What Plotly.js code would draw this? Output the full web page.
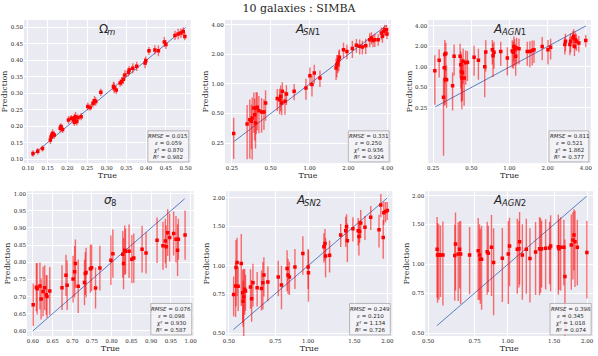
<!DOCTYPE html>
<html>
<head>
<meta charset="utf-8">
<script src="https://cdn.plot.ly/plotly-3.0.1.min.js"></script>
<style>
  body { margin: 0; background: #ffffff; }
  #chart { width: 598px; height: 356px; }
</style>
</head>
<body>
<div id="chart"></div>
<script>
// Omega_m
var om_true = [0.113,0.125,0.137,0.157,0.159,0.161,0.163,0.167,0.182,0.184,0.188,0.203,0.210,0.216,0.218,0.218,0.221,0.224,0.227,0.235,0.252,0.258,0.265,0.269,0.272,0.285,0.317,0.319,0.324,0.334,0.338,0.342,0.346,0.355,0.357,0.366,0.376,0.397,0.399,0.407,0.422,0.431,0.446,0.450,0.473,0.481,0.488,0.494,0.498];
var om_pred = [0.117,0.124,0.132,0.158,0.168,0.173,0.178,0.173,0.194,0.199,0.190,0.219,0.224,0.219,0.226,0.212,0.229,0.214,0.226,0.229,0.260,0.257,0.270,0.277,0.275,0.303,0.321,0.316,0.310,0.331,0.336,0.343,0.356,0.364,0.371,0.376,0.382,0.392,0.399,0.429,0.432,0.429,0.456,0.448,0.476,0.480,0.483,0.488,0.473];
var om_err = [0.010,0.010,0.009,0.012,0.014,0.012,0.013,0.011,0.012,0.010,0.011,0.012,0.010,0.013,0.012,0.011,0.014,0.012,0.010,0.011,0.012,0.010,0.013,0.015,0.012,0.011,0.014,0.016,0.012,0.011,0.013,0.015,0.014,0.013,0.012,0.015,0.014,0.016,0.013,0.012,0.014,0.016,0.015,0.013,0.014,0.016,0.015,0.013,0.012];
var om_line = [0.11, 0.50];

// A_SN1
var sn1_true = [0.258,0.328,0.344,0.354,0.359,0.370,0.376,0.381,0.386,0.393,0.405,0.425,0.443,0.456,0.562,0.586,0.597,0.608,0.615,0.645,0.662,0.760,0.938,1.007,1.045,1.089,1.205,1.607,1.629,1.656,1.687,1.706,1.835,1.950,2.150,2.310,2.450,2.570,2.730,2.930,3.020,3.110,3.210,3.410,3.610,3.680,3.770,3.840,3.960,3.990];
var sn1_pred = [0.312,0.391,0.433,0.416,0.450,0.569,0.486,0.400,0.569,0.578,0.535,0.519,0.519,0.641,0.710,0.692,0.748,0.641,0.841,0.665,0.791,0.841,0.912,1.216,0.986,1.294,1.151,1.456,1.574,1.637,1.770,1.870,2.240,2.150,2.300,2.480,2.420,2.380,2.450,2.830,2.940,2.770,2.830,2.830,3.310,3.060,3.440,3.580,3.580,3.240];
var sn1_err = [0.14,0.22,0.26,0.20,0.28,0.25,0.22,0.18,0.26,0.24,0.22,0.20,0.18,0.22,0.18,0.20,0.22,0.16,0.20,0.18,0.18,0.16,0.22,0.26,0.24,0.28,0.22,0.36,0.40,0.34,0.42,0.38,0.40,0.36,0.46,0.40,0.42,0.38,0.44,0.46,0.42,0.40,0.44,0.38,0.46,0.42,0.40,0.44,0.38,0.36];
var sn1_line = [0.26, 3.98];

// A_AGN1
var agn1_true = [0.258,0.279,0.302,0.306,0.309,0.311,0.315,0.319,0.356,0.366,0.408,0.413,0.418,0.421,0.426,0.431,0.439,0.452,0.466,0.526,0.569,0.638,0.650,0.733,0.742,0.755,0.853,0.962,1.052,1.072,1.084,1.098,1.119,1.138,1.188,1.380,1.449,1.510,1.560,1.810,2.010,2.110,2.730,2.760,2.990,3.030,3.160,3.210,3.250,3.310,3.370,3.520,3.990];
var agn1_pred = [0.88,1.25,0.36,0.97,1.53,0.66,1.57,0.65,0.53,1.44,1.44,1.08,0.86,0.69,0.82,1.21,0.69,1.15,1.17,1.39,1.25,1.01,1.66,1.79,1.46,1.64,1.69,1.35,1.72,1.64,2.00,1.79,1.44,1.89,1.85,1.69,1.69,1.75,1.79,2.00,1.79,1.94,2.13,2.38,2.13,2.38,2.67,2.82,2.00,2.50,2.38,2.25,2.45];
var agn1_err = [0.60,0.55,0.31,0.70,0.95,0.38,0.70,0.40,0.30,0.70,0.75,0.60,0.55,0.45,0.50,0.65,0.42,0.60,0.55,0.65,0.60,0.65,0.80,0.70,0.75,0.70,0.65,0.60,0.75,0.70,0.80,0.75,0.70,0.80,0.75,0.65,0.70,0.70,0.65,0.75,0.70,0.65,0.60,0.70,0.65,0.75,0.70,0.75,0.55,0.70,0.65,0.60,0.50];
var agn1_line = [0.26, 4.0];

// sigma_8
var s8_true = [0.601,0.609,0.611,0.618,0.621,0.626,0.630,0.634,0.636,0.643,0.674,0.684,0.687,0.702,0.706,0.708,0.715,0.731,0.733,0.735,0.746,0.749,0.759,0.770,0.798,0.803,0.828,0.830,0.833,0.835,0.844,0.851,0.856,0.877,0.887,0.915,0.930,0.936,0.938,0.942,0.947,0.957,0.963,0.967,0.969,0.986];
var s8_pred = [0.676,0.727,0.723,0.731,0.693,0.715,0.726,0.705,0.700,0.716,0.726,0.762,0.733,0.751,0.772,0.796,0.730,0.741,0.767,0.770,0.781,0.784,0.725,0.783,0.806,0.825,0.823,0.796,0.835,0.832,0.832,0.809,0.812,0.838,0.827,0.864,0.848,0.862,0.845,0.886,0.872,0.884,0.867,0.835,0.867,0.879];
var s8_err = [0.062,0.070,0.075,0.068,0.060,0.072,0.065,0.058,0.062,0.070,0.065,0.060,0.072,0.068,0.075,0.070,0.078,0.066,0.062,0.072,0.070,0.068,0.060,0.065,0.072,0.070,0.068,0.075,0.072,0.066,0.078,0.070,0.072,0.068,0.060,0.066,0.070,0.065,0.062,0.068,0.070,0.064,0.068,0.075,0.060,0.072];
var s8_line = [0.60, 0.985];

// A_SN2
var sn2_true = [0.521,0.530,0.532,0.537,0.542,0.557,0.564,0.566,0.569,0.574,0.578,0.604,0.610,0.617,0.640,0.665,0.673,0.679,0.703,0.770,0.792,0.832,0.839,0.849,0.891,0.955,1.000,1.003,1.148,1.159,1.165,1.207,1.330,1.390,1.400,1.410,1.480,1.550,1.560,1.570,1.585,1.645,1.730,1.860,1.890,1.930,1.940,1.970,2.000];
var sn2_pred = [0.745,0.811,0.980,1.032,0.809,1.021,0.758,0.695,0.725,0.785,0.771,0.803,0.713,0.839,0.798,0.792,0.839,0.909,0.845,0.891,0.820,0.970,0.909,0.891,0.987,1.132,0.987,0.931,1.212,1.255,1.105,1.113,1.370,1.430,1.490,1.289,1.460,1.430,1.348,1.420,1.547,1.480,1.640,1.445,1.862,1.334,1.720,1.740,1.757];
var sn2_err = [0.15,0.22,0.32,0.30,0.18,0.36,0.20,0.16,0.24,0.18,0.14,0.16,0.15,0.18,0.14,0.16,0.20,0.18,0.15,0.16,0.18,0.20,0.16,0.15,0.20,0.22,0.20,0.24,0.18,0.20,0.22,0.18,0.16,0.22,0.20,0.25,0.18,0.20,0.24,0.16,0.22,0.18,0.20,0.24,0.22,0.26,0.20,0.18,0.16];
var sn2_line = [0.52, 2.0];

// A_AGN2
var agn2_true = [0.541,0.543,0.549,0.557,0.569,0.631,0.635,0.650,0.658,0.664,0.718,0.774,0.783,0.788,0.797,0.837,0.845,0.869,0.885,0.955,1.006,1.017,1.088,1.104,1.110,1.137,1.177,1.215,1.276,1.321,1.333,1.345,1.393,1.442,1.455,1.556,1.564,1.588,1.633,1.648,1.742,1.767,1.783,1.799,1.836,1.995];
var agn2_pred = [1.165,1.101,1.101,1.101,1.101,1.094,1.229,1.112,1.165,1.112,1.101,1.150,1.101,1.054,1.054,1.138,1.119,1.189,1.020,1.065,1.112,1.204,1.165,1.173,1.258,1.101,1.165,1.062,1.135,1.173,1.173,1.173,1.177,1.180,1.204,1.197,1.173,1.189,1.189,0.887,1.216,1.279,1.345,1.258,1.189,1.130];
var agn2_err = [0.45,0.42,0.40,0.38,0.44,0.40,0.46,0.42,0.38,0.44,0.36,0.45,0.40,0.38,0.42,0.40,0.36,0.46,0.42,0.38,0.44,0.40,0.42,0.38,0.44,0.40,0.42,0.38,0.40,0.44,0.42,0.38,0.40,0.36,0.44,0.46,0.40,0.42,0.38,0.40,0.44,0.42,0.40,0.46,0.38,0.42];
var agn2_line = [0.54, 1.99];

// panel titles (symbol + subscript) and score boxes
var title_base = ["Ω", "<i>A</i>", "<i>A</i>", "<i>σ</i>", "<i>A</i>", "<i>A</i>"];
var title_sub = ["<i>m</i>", "<i>SN</i>1", "<i>AGN</i>1", "8", "<i>SN</i>2", "<i>AGN</i>2"];
var rmse = ["0.015", "0.331", "0.811", "0.076", "0.249", "0.398"];
var eps = ["0.059", "0.250", "0.521", "0.098", "0.210", "0.345"];
var chi2 = ["0.870", "0.936", "1.862", "0.930", "1.134", "1.018"];
var r2 = ["0.982", "0.924", "0.377", "0.587", "0.726", "0.074"];

var lin_ticks = [0.10,0.15,0.20,0.25,0.30,0.35,0.40,0.45,0.50];
var s8_ticks = [0.60,0.65,0.70,0.75,0.80,0.85,0.90,0.95,1.00];
var log1_ticks = [0.25,0.5,1,2,4];
var log1_text = ["0.25","0.50","1.00","2.00","4.00"];
var log2_ticks = [0.5,0.75,1,1.5,2];
var log2_text = ["0.50","0.75","1.00","1.50","2.00"];

// sp = px shift of the joint between symbol and subscript, so the title stays centred
var panels = [
    {t: om_true, p: om_pred, e: om_err, l: om_line, type: "linear", tv: lin_ticks, sp: 0.5,
     xr: [0.09, 0.513], yr: [0.088, 0.523], xd: [0.040, 0.319], yd: [0.542, 0.944]},
    {t: sn1_true, p: sn1_pred, e: sn1_err, l: sn1_line, type: "log", tv: log1_ticks, tt: log1_text, sp: -4.5,
     xr: [-0.657, 0.633], yr: [-0.806, 0.653], xd: [0.376, 0.654], yd: [0.542, 0.944]},
    {t: agn1_true, p: agn1_pred, e: agn1_err, l: agn1_line, type: "log", tv: log1_ticks, tt: log1_text, sp: -8,
     xr: [-0.641, 0.641], yr: [-1.41, 0.69], xd: [0.716, 0.988], yd: [0.542, 0.944]},
    {t: s8_true, p: s8_pred, e: s8_err, l: s8_line, type: "linear", tv: s8_ticks, sp: 1,
     xr: [0.585, 1.008], yr: [0.585, 1.007], xd: [0.045, 0.324], yd: [0.056, 0.463]},
    {t: sn2_true, p: sn2_pred, e: sn2_err, l: sn2_line, type: "log", tv: log2_ticks, tt: log2_text, sp: -4.5,
     xr: [-0.312, 0.32], yr: [-0.313, 0.331], xd: [0.378, 0.656], yd: [0.056, 0.463]},
    {t: agn2_true, p: agn2_pred, e: agn2_err, l: agn2_line, type: "log", tv: log2_ticks, tt: log2_text, sp: -8,
     xr: [-0.312, 0.324], yr: [-0.313, 0.321], xd: [0.711, 0.992], yd: [0.056, 0.463]}
];

var serif = "DejaVu Serif";
var sans = "DejaVu Sans";
var data = [];
var annotations = [];
var shapes = [];

var layout = {
    width: 598,
    height: 356,
    margin: {l: 0, r: 0, t: 0, b: 0},
    paper_bgcolor: "#ffffff",
    plot_bgcolor: "#EAEAF2",
    showlegend: false,
    title: {text: "10 galaxies : SIMBA", x: 0.5, xanchor: "center", y: 0.978, yanchor: "middle",
            font: {family: serif, size: 11, color: "#262626"}},
    annotations: annotations,
    shapes: shapes
};

function axisSpec(pn, which){
    var ax = {
        type: pn.type,
        range: which == "x" ? pn.xr : pn.yr,
        domain: which == "x" ? pn.xd : pn.yd,
        tickvals: pn.tv,
        showgrid: true,
        gridcolor: "#ffffff",
        gridwidth: 1,
        zeroline: false,
        showline: false,
        ticks: "",
        tickfont: {family: serif, size: 5.5, color: "#262626"},
        title: {text: which == "x" ? "True" : "Prediction", standoff: 1,
                font: {family: serif, size: 8, color: "#262626"}}
    };
    if (pn.tt) {
        ax.ticktext = pn.tt;
    } else {
        ax.tickformat = ".2f";
    }
    return ax;
}

// one text line of the score box
function boxLine(xa, ya, y, txt){
    annotations.push({
        xref: xa + " domain", yref: ya + " domain", x: 0.866, y: y,
        xanchor: "center", yanchor: "middle", showarrow: false,
        text: txt, font: {family: sans, size: 5.5, color: "#262626"}
    });
}

for (var i = 0; i < panels.length; i++){
    var pn = panels[i];
    var n = i == 0 ? "" : (i + 1).toString();
    var xa = "x" + n;
    var ya = "y" + n;

    // the 1:1 line
    data.push({
        x: pn.l, y: pn.l, xaxis: xa, yaxis: ya,
        mode: "lines", type: "scatter",
        line: {color: "#5A7EC0", width: 1},
        hoverinfo: "skip"
    });

    // predictions with error bars
    data.push({
        x: pn.t, y: pn.p, xaxis: xa, yaxis: ya,
        mode: "markers", type: "scatter",
        marker: {color: "#ff0000", size: 3.5, symbol: "square"},
        error_y: {type: "data", array: pn.e, visible: true, color: "rgba(255,0,0,0.55)", thickness: 1.4, width: 0}
    });

    layout["xaxis" + n] = axisSpec(pn, "x");
    layout["yaxis" + n] = axisSpec(pn, "y");
    layout["xaxis" + n].anchor = ya;
    layout["yaxis" + n].anchor = xa;

    // title: symbol, then its subscript a bit lower
    annotations.push({
        xref: xa + " domain", yref: ya + " domain", x: 0.5, y: 0.94, xshift: pn.sp + 0.5,
        xanchor: "right", yanchor: "middle", showarrow: false, borderpad: 0, borderwidth: 0,
        text: title_base[i], font: {family: sans, size: 12, color: "#262626"}
    });
    annotations.push({
        xref: xa + " domain", yref: ya + " domain", x: 0.5, y: 0.94, xshift: pn.sp - 0.5, yshift: -3.5,
        xanchor: "left", yanchor: "middle", showarrow: false, borderpad: 0, borderwidth: 0,
        text: title_sub[i], font: {family: sans, size: 8.5, color: "#262626"}
    });

    // score box
    shapes.push({
        type: "rect", xref: xa + " domain", yref: ya + " domain",
        x0: 0.743, x1: 0.988, y0: 0.008, y1: 0.225,
        fillcolor: "rgba(245,245,248,0.85)", line: {color: "#a8a8a8", width: 0.8}
    });
    boxLine(xa, ya, 0.186, "<i>RMSE</i> = " + rmse[i]);
    boxLine(xa, ya, 0.137, "<i>ε</i> = " + eps[i]);
    boxLine(xa, ya, 0.088, "<i>χ</i>² = " + chi2[i]);
    boxLine(xa, ya, 0.039, "<i>R</i>² = " + r2[i]);
}

Plotly.newPlot("chart", data, layout, {displayModeBar: false, staticPlot: true});
</script>
</body>
</html>
